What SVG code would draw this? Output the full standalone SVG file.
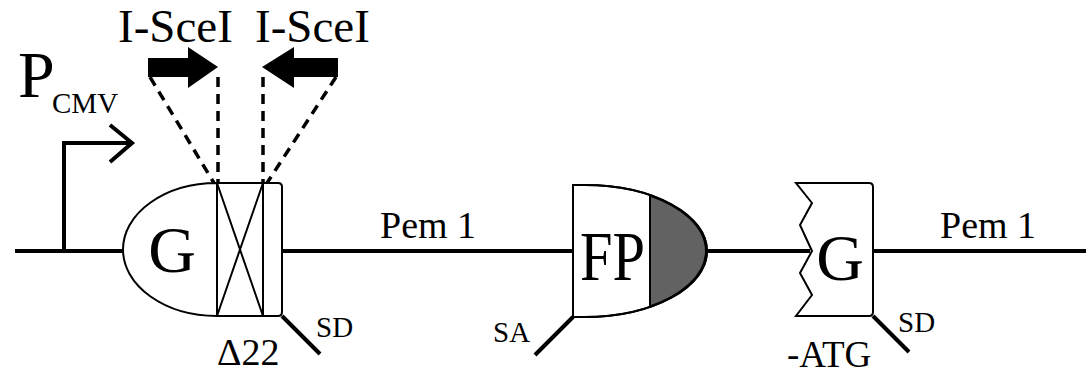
<svg xmlns="http://www.w3.org/2000/svg" width="1086" height="375" viewBox="0 0 1086 375">
<style>
text{font-family:"Liberation Serif","Times New Roman",serif;fill:#000}
.thin{fill:#fff;stroke:#000;stroke-width:2}
.thick{fill:none;stroke:#000;stroke-width:4}
.dash{fill:none;stroke:#000;stroke-width:3.5;stroke-dasharray:10 7}
</style>
<rect width="1086" height="375" fill="#fff"/>
<g id="connectors">
<path class="thick" d="M15,251H123M282,251H573M707,251H810M873,251H1086"/>
<path class="thick" d="M64,251V143H130"/>
<path class="thick" d="M110,125L132,143L110,162"/>
<path class="dash" d="M218,77V183M263,77V183M150,77L214,183M336,77L267,183"/>
</g>
<g id="promoter">
<text x="18" y="97" font-size="66">P</text>
<text x="52" y="113" font-size="29">CMV</text>
</g>
<g id="isce1">
<text x="118" y="42" font-size="47">I-SceI</text>
<path d="M148,58H188V47L218,67L188,88V77H148Z" fill="#000"/>
</g>
<g id="isce2">
<text x="255" y="42" font-size="47">I-SceI</text>
<path d="M338,58H294V47L262,67L294,88V77H338Z" fill="#000"/>
</g>
<g id="gdelta">
<path class="thin" d="M217,183A94,66.5 0 0 0 217,316Z"/>
<path class="thin" d="M217,183H278Q282,183 282,187V312Q282,316 278,316H217Z"/>
<path fill="none" stroke="#000" stroke-width="2" d="M263,183V316M217,183L263,316M263,183L217,316"/>
<text x="172" y="272" font-size="66" text-anchor="middle">G</text>
<path class="thick" d="M282,316L320,354"/>
<text x="316" y="337" font-size="29">SD</text>
<text x="217" y="365" font-size="38">Δ22</text>
</g>
<g id="pem1a"><text x="380" y="238" font-size="38">Pem 1</text></g>
<g id="fp">
<path class="thin" d="M573,185H585A122,66 0 0 1 585,317H573Z"/>
<path d="M650,195.5A122,66 0 0 1 650,306.5Z" fill="#626262" stroke="#000" stroke-width="2"/>
<path fill="none" stroke="#000" stroke-width="2" d="M585,185A122,66 0 0 1 585,317"/>
<text x="580" y="280" font-size="70" textLength="65" lengthAdjust="spacingAndGlyphs">FP</text>
<path class="thick" d="M573,317L535,355"/>
<text x="493" y="342" font-size="29">SA</text>
</g>
<g id="gatg">
<path class="thin" d="M796,183H869Q873,183 873,187V312Q873,316 869,316H796L812,295L800,273L812,251L800,225L812,203Z"/>
<text x="840" y="280" font-size="66" text-anchor="middle">G</text>
<path class="thick" d="M873,316L909,352"/>
<text x="898" y="332" font-size="29">SD</text>
<text x="787" y="367" font-size="37">-ATG</text>
</g>
<g id="pem1b"><text x="940" y="238" font-size="38">Pem 1</text></g>
</svg>
